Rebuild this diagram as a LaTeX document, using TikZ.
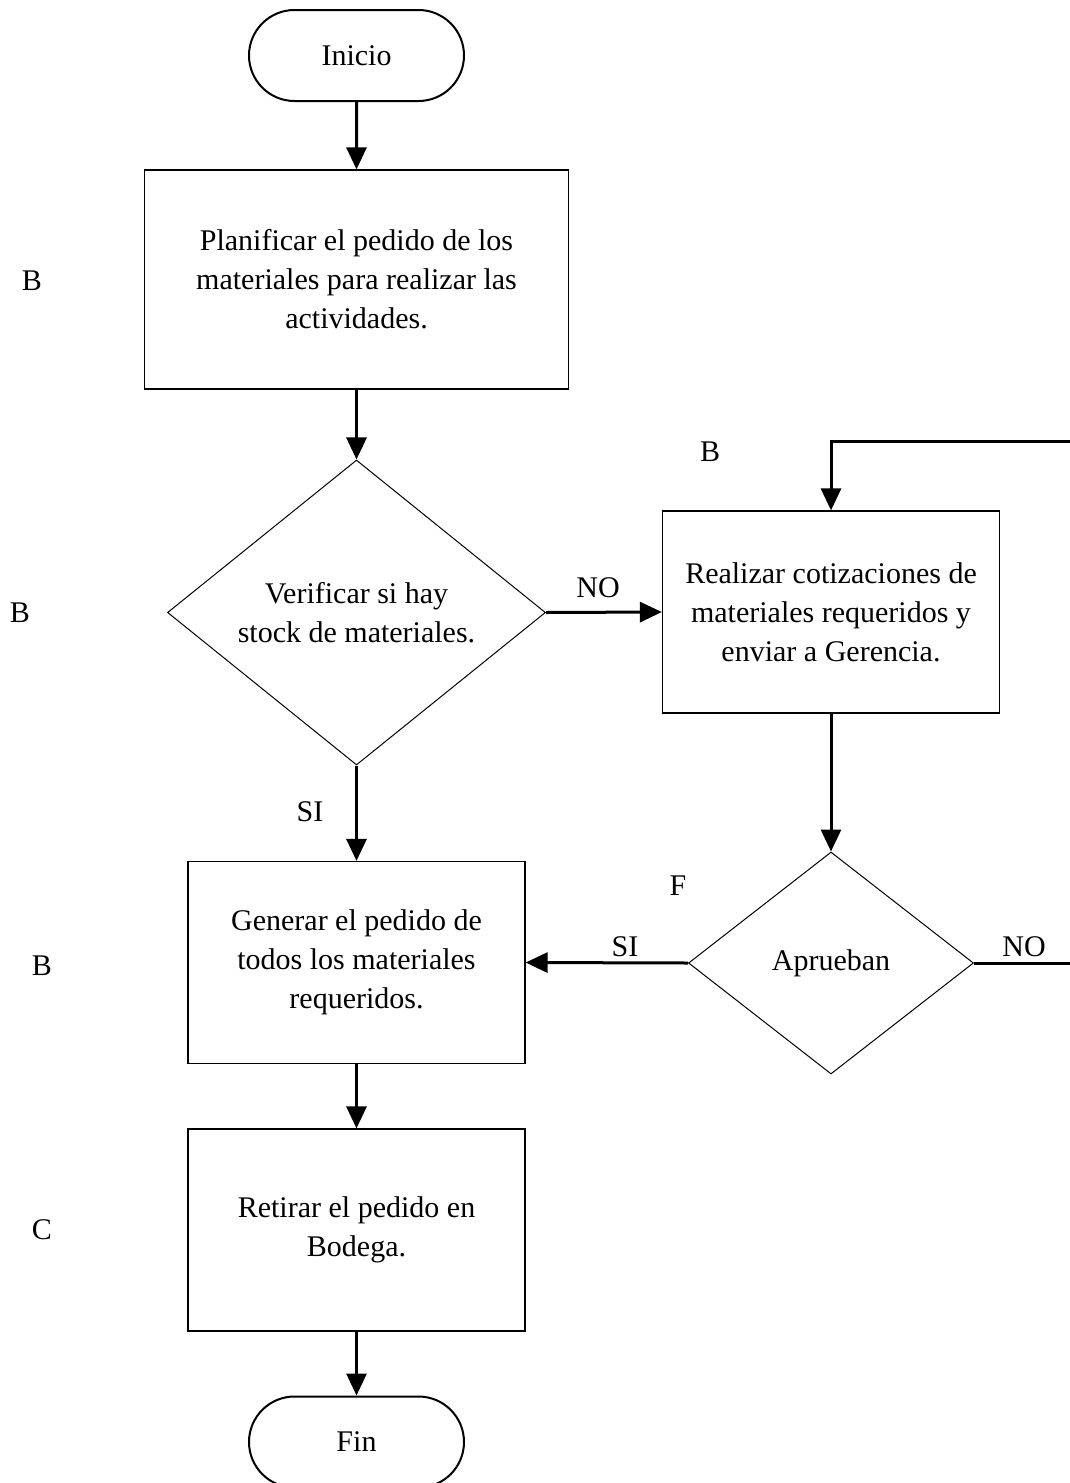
\documentclass[tikz,border=0pt]{standalone}
\usepackage{fontspec}
\setmainfont{Liberation Serif}
\usetikzlibrary{shapes.geometric,shapes.misc,arrows.meta}

\begin{document}
\begin{tikzpicture}[x=0.5pt,y=-0.5pt,
  every node/.style={font=\fontsize{15}{19.5}\selectfont},
  proc/.style={draw, line width=0.6pt, minimum width=168.5pt, minimum height=101pt, align=center, inner sep=0},
  term/.style={draw, rounded rectangle, line width=1pt, minimum width=107.5pt, minimum height=45.5pt, inner sep=0},
  dec/.style={draw, diamond, line width=0.5pt, align=center, inner sep=0},
  flow/.style={line width=1.5pt, -{Triangle[length=11pt,width=10pt]}},
  lbl/.style={inner sep=0}
]
\useasboundingbox (0,0) rectangle (1070,1483);
\clip (0,0) rectangle (1070,1483);

% main column
\node[term] (ini) at (356.5,55.5) {Inicio};
\node[proc, minimum width=212pt, minimum height=109.5pt] (plan) at (356.5,279.5)
  {Planificar el pedido de los\\materiales para realizar las\\actividades.};
\node[dec, minimum width=189pt, minimum height=152.5pt] (ver) at (356.5,612.5)
  {Verificar si hay\\stock de materiales.};
\node[proc] (gen) at (356.5,962.5) {Generar el pedido de\\todos los materiales\\requeridos.};
\node[proc] (ret) at (356.5,1230) {Retirar el pedido en\\Bodega.};
\node[term] (fin) at (356.5,1442) {Fin};

% right column
\node[proc] (cot) at (831,612) {Realizar cotizaciones de\\materiales requeridos y\\enviar a Gerencia.};
\node[dec, minimum width=142.5pt, minimum height=111pt] (apr) at (831,963) {Aprueban};

% connectors
\draw[flow] (ini) -- (plan);
\draw[flow] (plan) -- (ver);
\draw[flow] (ver.south) -- (gen.north);
\draw[flow] (gen) -- (ret);
\draw[flow] (ret) -- (fin);
\draw[flow] (ver.east) -- (cot.west);
\draw[flow] (cot.south) -- (apr.north);
\draw[flow] (apr.west) -- (gen.east);

% loop back for rejection
\coordinate (r1) at (1085,963);
\coordinate (r2) at (1085,441);
\draw[flow] (apr.east) -- (r1) -- (r2) -| (cot.north);

% branch labels
\node[lbl] (no1) at (598,588) {NO};
\node[lbl] (si1) at (310,812) {SI};
\node[lbl] (si2) at (625,947) {SI};
\node[lbl] (no2) at (1024,947) {NO};

% responsibility letters
\node[lbl] (lb1) at (32,281) {B};
\node[lbl] (lb2) at (20,613) {B};
\node[lbl] (lb3) at (42,966) {B};
\node[lbl] (lc4) at (42,1230) {C};
\node[lbl] (lb5) at (710,452) {B};
\node[lbl] (lf6) at (678,886) {F};
\end{tikzpicture}
\end{document}
